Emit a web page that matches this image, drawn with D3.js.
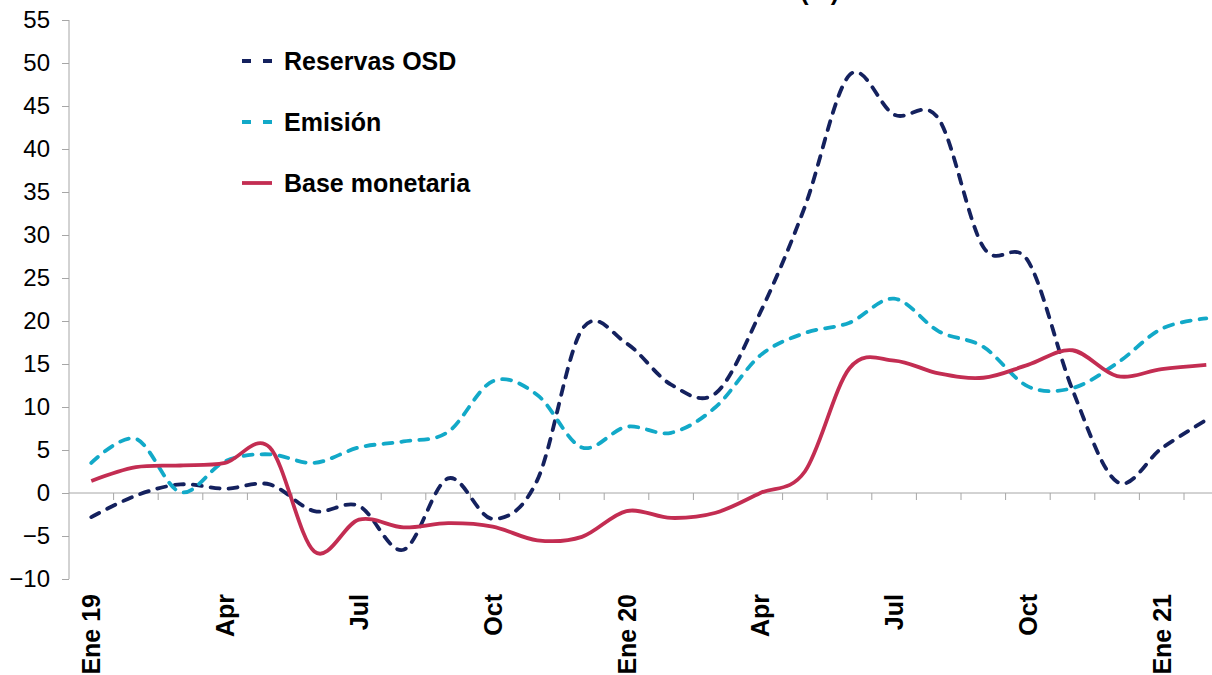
<!DOCTYPE html>
<html>
<head>
<meta charset="utf-8">
<script src="https://cdn.jsdelivr.net/npm/d3@7"></script>
<style>
    body { margin: 0; background: #ffffff; }
    #chart { width: 1212px; height: 675px; overflow: hidden; }
    text { font-family: "Liberation Sans", Arial, sans-serif; }
</style>
</head>
<body>
<div id="chart"></div>
<script>
//DATA
let MONTHS = ["Ene 19", "Feb 19", "Mar 19", "Apr 19", "May 19", "Jun 19", "Jul 19", "Aug 19", "Sep 19", "Oct 19", "Nov 19", "Dec 19",
    "Ene 20", "Feb 20", "Mar 20", "Apr 20", "May 20", "Jun 20", "Jul 20", "Aug 20", "Sep 20", "Oct 20", "Nov 20", "Dec 20",
    "Ene 21", "Feb 21"]
let TICK_LABELS = { "Ene 19": "Ene 19", "Apr 19": "Apr", "Jul 19": "Jul", "Oct 19": "Oct", "Ene 20": "Ene 20",
    "Apr 20": "Apr", "Jul 20": "Jul", "Oct 20": "Oct", "Ene 21": "Ene 21" }
let Y_TICKS = [-10, -5, 0, 5, 10, 15, 20, 25, 30, 35, 40, 45, 50, 55]

let RESERVAS = [-2.8, -0.3, 1.0, 0.5, 1.0, -2.1, -1.5, -6.6, 1.7, -3.0, 1.5, 19.0, 17.4, 12.6, 11.6, 21.0,
    33.3, 48.6, 44.0, 43.5, 28.6, 27.0, 12.0, 1.3, 5.2, 8.5]
let EMISION = [3.5, 6.3, 0.1, 3.7, 4.5, 3.5, 5.3, 6.0, 7.1, 13.0, 11.4, 5.3, 7.7, 7.0, 10.0, 16.0,
    18.6, 19.8, 22.6, 18.8, 17.0, 12.4, 12.2, 15.1, 19.1, 20.3]
let BASE = [1.4, 3.0, 3.2, 3.5, 5.3, -6.8, -3.1, -4.0, -3.5, -3.9, -5.5, -5.1, -2.1, -2.9, -2.3, 0.0,
    2.5, 14.5, 15.4, 13.9, 13.4, 14.9, 16.6, 13.6, 14.4, 14.9]

let SERIES = [
    { name: "Reservas OSD", values: RESERVAS, color: "#14215e", dash: "9,9" },
    { name: "Emisión", values: EMISION, color: "#12a9c8", dash: "9,9" },
    { name: "Base monetaria", values: BASE, color: "#c32d52", dash: null }
]

// MAIN SCRIPT
let width = 1212, height = 675
let marginLeft = 69, plotTop = 20, plotBottom = 579
let step = 44.6

let svg = d3.select("#chart")
    .append("svg")
    .attr("width", width)
    .attr("height", height)

// scales: categories go a bit past the right edge, like the cropped original
let x = d3.scaleBand()
    .domain(MONTHS)
    .range([marginLeft, marginLeft + MONTHS.length * step])
    .padding(0)
let y = d3.scaleLinear()
    .domain([-10, 55])
    .range([plotBottom, plotTop])

function cx(i) { return x(MONTHS[i]) + x.bandwidth() / 2 }

// title, mostly cut off at the top (as in the original crop)
svg.append("text")
    .attr("x", 642)
    .attr("y", 0)
    .attr("text-anchor", "middle")
    .style("font-size", "25px")
    .style("font-weight", "bold")
    .text("Tasas de variación interanual (%)")

// Y axis
let yAxis = svg.append("g")
    .attr("transform", "translate(" + marginLeft + ",0)")
    .call(d3.axisLeft(y).tickValues(Y_TICKS).tickSize(7).tickPadding(12).tickFormat(d3.format("d")))
yAxis.select(".domain").attr("stroke", "#a6a6a6").attr("d", "M0," + plotTop + "V" + plotBottom)
yAxis.selectAll(".tick line").attr("stroke", "#a6a6a6")
yAxis.selectAll(".tick text")
    .style("font-size", "24px")
    .style("font-family", "'Liberation Sans', Arial, sans-serif")
    .attr("fill", "#000")

// X axis on the zero line, ticks between months
let xAxis = svg.append("g")
    .attr("transform", "translate(0," + y(0) + ")")
xAxis.append("line")
    .attr("x1", marginLeft)
    .attr("x2", marginLeft + MONTHS.length * step)
    .attr("stroke", "#a6a6a6")
xAxis.selectAll("myTicks")
    .data(MONTHS.slice(1))
    .enter()
    .append("line")
    .attr("x1", function (d) { return x(d) })
    .attr("x2", function (d) { return x(d) })
    .attr("y1", 0)
    .attr("y2", 7)
    .attr("stroke", "#a6a6a6")

// month labels at the bottom, rotated
svg.selectAll("myLabels")
    .data(MONTHS.filter(function (d) { return TICK_LABELS[d] }))
    .enter()
    .append("text")
    .attr("transform", function (d) { return "translate(" + (x(d) + x.bandwidth() / 2) + ",594) rotate(-90)" })
    .attr("text-anchor", "end")
    .attr("dy", "0.36em")
    .style("font-size", "25px")
    .style("font-weight", "bold")
    .text(function (d) { return TICK_LABELS[d] })

// lines
let line = d3.line()
    .x(function (d, i) { return cx(i) })
    .y(function (d) { return y(d) })
    .curve(d3.curveCardinal)

svg.selectAll("myLines")
    .data(SERIES)
    .enter()
    .append("path")
    .attr("d", function (d) { return line(d.values) })
    .attr("stroke", function (d) { return d.color })
    .attr("stroke-dasharray", function (d) { return d.dash })
    .attr("stroke-linecap", function (d) { return d.dash ? "round" : "butt" })
    .style("stroke-width", 3.8)
    .style("fill", "none")

// legend
let legend = svg.selectAll("myLegend")
    .data(SERIES)
    .enter()
    .append("g")
    .attr("transform", function (d, i) { return "translate(240," + (61 + i * 61) + ")" })
legend.append("line")
    .attr("x1", 2)
    .attr("x2", 32)
    .attr("stroke", function (d) { return d.color })
    .attr("stroke-dasharray", function (d) { return d.dash ? "9,12" : null })
    .attr("stroke-linecap", "butt")
    .style("stroke-width", 3.8)
legend.append("text")
    .attr("x", 44)
    .attr("dy", "0.36em")
    .style("font-size", "25px")
    .style("font-weight", "bold")
    .text(function (d) { return d.name })
</script>
</body>
</html>
